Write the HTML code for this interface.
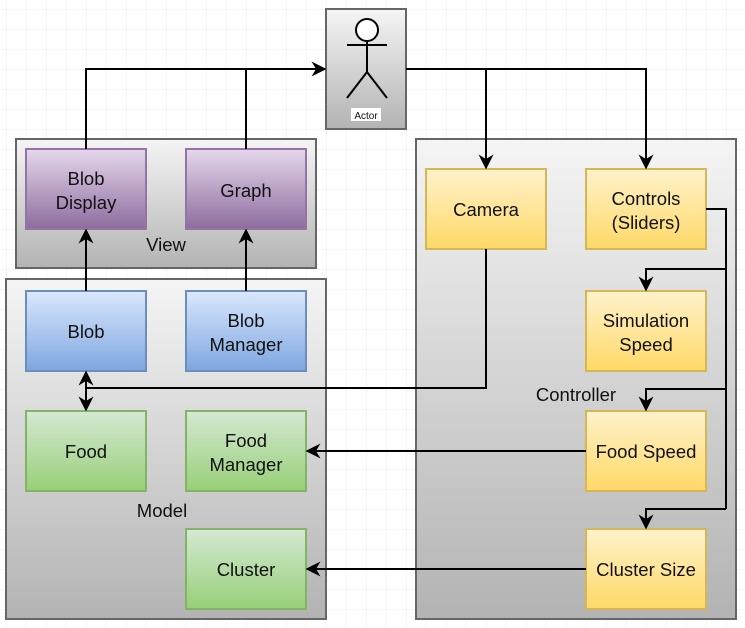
<!DOCTYPE html>
<html><head><meta charset="utf-8"><style>
html,body{margin:0;padding:0;background:#fff}
svg{display:block}
text{font-family:"Liberation Sans",sans-serif;font-size:18.5px;fill:#111;text-anchor:middle}
</style></head><body>
<svg width="745" height="628" viewBox="0 0 745 628" xmlns="http://www.w3.org/2000/svg">
<defs>
<pattern id="grid" width="20" height="20" patternUnits="userSpaceOnUse" x="6" y="9">
<path d="M20 0H0V20" fill="none" stroke="#ececec" stroke-width="1"/>
</pattern>
<linearGradient id="gc" x1="0" y1="0" x2="0" y2="1"><stop offset="0" stop-color="#f5f5f5"/><stop offset="1" stop-color="#b3b3b3"/></linearGradient>
<linearGradient id="gp" x1="0" y1="0" x2="0" y2="1"><stop offset="0" stop-color="#e6d8ec"/><stop offset="1" stop-color="#8d6c9e"/></linearGradient>
<linearGradient id="gb" x1="0" y1="0" x2="0" y2="1"><stop offset="0" stop-color="#dae8fc"/><stop offset="1" stop-color="#7ea6e0"/></linearGradient>
<linearGradient id="gg" x1="0" y1="0" x2="0" y2="1"><stop offset="0" stop-color="#d5e8d4"/><stop offset="1" stop-color="#97d077"/></linearGradient>
<linearGradient id="gy" x1="0" y1="0" x2="0" y2="1"><stop offset="0" stop-color="#fff2cc"/><stop offset="1" stop-color="#ffd966"/></linearGradient>
<marker id="a" viewBox="0 0 10 10" refX="9" refY="5" markerWidth="15" markerHeight="15" orient="auto" markerUnits="userSpaceOnUse"><path d="M0 0L10 5L0 10L3 5Z" fill="#000"/></marker>
<marker id="as" viewBox="0 0 10 10" refX="1" refY="5" markerWidth="15" markerHeight="15" orient="auto" markerUnits="userSpaceOnUse"><path d="M10 0L0 5L10 10L7 5Z" fill="#000"/></marker>
</defs>
<rect width="745" height="628" fill="url(#grid)"/>

<rect x="326" y="9" width="80" height="120" fill="url(#gc)" stroke="#666" stroke-width="2"/>
<rect x="16" y="139" width="300" height="129" fill="url(#gc)" stroke="#666" stroke-width="2"/>
<rect x="6" y="279" width="320" height="340" fill="url(#gc)" stroke="#666" stroke-width="2"/>
<rect x="416" y="139" width="320" height="480" fill="url(#gc)" stroke="#666" stroke-width="2"/>

<g stroke="#000" stroke-width="2" fill="none">
<circle cx="367" cy="30" r="11" fill="#fff"/>
<line x1="367" y1="41" x2="367" y2="72"/>
<line x1="347" y1="45" x2="387" y2="45"/>
<line x1="367" y1="72" x2="347" y2="98"/>
<line x1="367" y1="72" x2="387" y2="98"/>
</g>
<rect x="351" y="108" width="30" height="13" fill="#fff"/>
<text x="366" y="119" style="font-size:10px">Actor</text>

<rect x="26" y="149" width="120" height="80" fill="url(#gp)" stroke="#9673a6" stroke-width="2"/>
<rect x="186" y="149" width="120" height="80" fill="url(#gp)" stroke="#9673a6" stroke-width="2"/>
<rect x="26" y="291" width="120" height="80" fill="url(#gb)" stroke="#6c8ebf" stroke-width="2"/>
<rect x="186" y="291" width="120" height="80" fill="url(#gb)" stroke="#6c8ebf" stroke-width="2"/>
<rect x="26" y="411" width="120" height="80" fill="url(#gg)" stroke="#82b366" stroke-width="2"/>
<rect x="186" y="411" width="120" height="80" fill="url(#gg)" stroke="#82b366" stroke-width="2"/>
<rect x="186" y="529" width="120" height="80" fill="url(#gg)" stroke="#82b366" stroke-width="2"/>
<rect x="426" y="169" width="120" height="80" fill="url(#gy)" stroke="#d6b656" stroke-width="2"/>
<rect x="586" y="169" width="120" height="80" fill="url(#gy)" stroke="#d6b656" stroke-width="2"/>
<rect x="586" y="291" width="120" height="80" fill="url(#gy)" stroke="#d6b656" stroke-width="2"/>
<rect x="586" y="411" width="120" height="80" fill="url(#gy)" stroke="#d6b656" stroke-width="2"/>
<rect x="586" y="529" width="120" height="80" fill="url(#gy)" stroke="#d6b656" stroke-width="2"/>

<text x="86" y="185">Blob</text><text x="86" y="209">Display</text>
<text x="246" y="197">Graph</text>
<text x="166" y="251">View</text>
<text x="86" y="338">Blob</text>
<text x="246" y="327">Blob</text><text x="246" y="351">Manager</text>
<text x="86" y="458">Food</text>
<text x="246" y="447">Food</text><text x="246" y="471">Manager</text>
<text x="246" y="576">Cluster</text>
<text x="162" y="517">Model</text>
<text x="486" y="216">Camera</text>
<text x="646" y="205">Controls</text><text x="646" y="229">(Sliders)</text>
<text x="646" y="327">Simulation</text><text x="646" y="351">Speed</text>
<text x="576" y="401">Controller</text>
<text x="646" y="458">Food Speed</text>
<text x="646" y="576">Cluster Size</text>

<g stroke="#000" stroke-width="2" fill="none">
<path d="M86 149V69H325" marker-end="url(#a)"/>
<path d="M246 149V69"/>
<path d="M406 69H486V168" marker-end="url(#a)"/>
<path d="M486 69H646V168" marker-end="url(#a)"/>
<path d="M86 291V230" marker-end="url(#a)"/>
<path d="M246 291V230" marker-end="url(#a)"/>
<path d="M486 249V388H86"/>
<path d="M86 372V410" marker-start="url(#as)" marker-end="url(#a)"/>
<path d="M706 209H726V509"/>
<path d="M726 269H646V290" marker-end="url(#a)"/>
<path d="M726 389H646V410" marker-end="url(#a)"/>
<path d="M726 509H646V528" marker-end="url(#a)"/>
<path d="M586 451H307" marker-end="url(#a)"/>
<path d="M586 569H307" marker-end="url(#a)"/>
</g>
</svg>
</body></html>
